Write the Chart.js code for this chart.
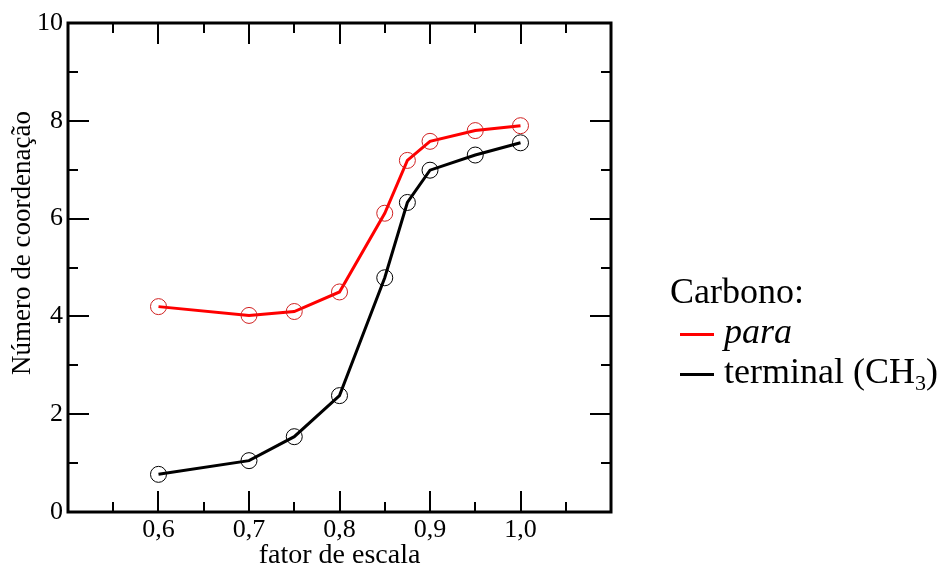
<!DOCTYPE html>
<html>
<head>
<meta charset="utf-8">
<script src="https://cdn.jsdelivr.net/npm/chart.js@4"></script>
<style>
  html, body { margin: 0; padding: 0; background: #fff; }
  #wrap { position: relative; width: 949px; height: 567px; }
  #legend { position: absolute; left: 670px; top: 271px; font-family: "Liberation Serif", "Times New Roman", serif; font-size: 36px; color: #000; line-height: 40px; }
  #legend .row { white-space: nowrap; }
  #legend .sw { display: inline-block; width: 34px; height: 3px; vertical-align: middle; margin-left: 10px; margin-right: 10px; }
  #legend sub { font-size: 22px; vertical-align: -7px; line-height: 0; }
</style>
</head>
<body>
<div id="wrap">
  <canvas id="c" width="949" height="567"></canvas>
  <div id="legend">
    <div class="row">Carbono:</div>
    <div class="row"><span class="sw" style="background:#ff0000"></span><i>para</i></div>
    <div class="row"><span class="sw" style="background:#000"></span>terminal (CH<sub>3</sub>)</div>
  </div>
</div>
<script>
const xValues = [0.6, 0.7, 0.75, 0.8, 0.85, 0.875, 0.9, 0.95, 1.0];
const paraValues = [4.2, 4.02, 4.1, 4.5, 6.11, 7.19, 7.58, 7.8, 7.9];
const terminalValues = [0.77, 1.05, 1.54, 2.38, 4.79, 6.33, 6.99, 7.3, 7.55];
const xTickLabels = [0.6, 0.7, 0.8, 0.9, 1.0];
const yTickLabels = [0, 2, 4, 6, 8, 10];
const xTitle = "fator de escala";
const yTitle = "Número de coordenação";

const FONT = '"Liberation Serif", "Times New Roman", serif';

const framePlugin = {
  id: 'frame',
  afterDatasetsDraw(chart) {
    const ctx = chart.ctx;
    const a = chart.chartArea;
    const xs = chart.scales.x, ys = chart.scales.y;
    ctx.save();
    ctx.strokeStyle = '#000';
    ctx.lineWidth = 2;
    ctx.beginPath();
    for (let i = 0; i <= 12; i++) {
      const v = 0.5 + i * 0.05;
      const px = Math.round(xs.getPixelForValue(v));
      const len = (i % 2 === 0) ? 21 : 10;
      ctx.moveTo(px, a.bottom); ctx.lineTo(px, a.bottom - len);
      ctx.moveTo(px, a.top); ctx.lineTo(px, a.top + len);
    }
    for (let v = 0; v <= 10; v++) {
      const py = Math.round(ys.getPixelForValue(v));
      const len = (v % 2 === 0) ? 21 : 10;
      ctx.moveTo(a.left, py); ctx.lineTo(a.left + len, py);
      ctx.moveTo(a.right, py); ctx.lineTo(a.right - len, py);
    }
    ctx.stroke();
    ctx.lineWidth = 3;
    ctx.strokeRect(a.left, a.top, a.right - a.left, a.bottom - a.top);
    ctx.fillStyle = '#000';
    ctx.font = '27px ' + FONT;
    ctx.textAlign = 'center';
    ctx.textBaseline = 'middle';
    ctx.translate(23, 243);
    ctx.rotate(-Math.PI / 2);
    ctx.fillText(yTitle, 0, 0);
    ctx.restore();
  }
};

new Chart(document.getElementById('c'), {
  type: 'line',
  data: {
    datasets: [
      {
        label: 'para',
        data: xValues.map((x, i) => ({ x: x, y: paraValues[i] })),
        borderColor: '#ff0000',
        borderWidth: 3,
        pointStyle: 'circle',
        pointRadius: 8,
        pointBorderWidth: 1,
        pointBorderColor: '#d02020',
        pointBackgroundColor: 'rgba(0,0,0,0)',
        tension: 0,
        fill: false
      },
      {
        label: 'terminal (CH3)',
        data: xValues.map((x, i) => ({ x: x, y: terminalValues[i] })),
        borderColor: '#000000',
        borderWidth: 3,
        pointStyle: 'circle',
        pointRadius: 8,
        pointBorderWidth: 1,
        pointBorderColor: '#000000',
        pointBackgroundColor: 'rgba(0,0,0,0)',
        tension: 0,
        fill: false
      }
    ]
  },
  options: {
    responsive: false,
    animation: false,
    layout: { padding: { left: 0, right: 338, top: 23, bottom: 0 } },
    plugins: { legend: { display: false }, tooltip: { enabled: false } },
    scales: {
      x: {
        type: 'linear',
        min: 0.5, max: 1.1,
        grid: { display: false, drawTicks: false },
        border: { display: false },
        afterBuildTicks: s => { s.ticks = xTickLabels.map(v => ({ value: v })); },
        afterFit: s => { s.height = 55; },
        ticks: {
          padding: 3,
          color: '#000',
          font: { family: FONT, size: 26 },
          callback: v => v.toFixed(1).replace('.', ',')
        },
        title: {
          display: true, text: xTitle, color: '#000',
          font: { family: FONT, size: 28, lineHeight: 0.8 }, padding: 0
        }
      },
      y: {
        min: 0, max: 10,
        grid: { display: false, drawTicks: false },
        border: { display: false },
        afterBuildTicks: s => { s.ticks = yTickLabels.map(v => ({ value: v })); },
        afterFit: s => { s.width = 68; },
        ticks: {
          padding: 5,
          color: '#000',
          font: { family: FONT, size: 26 },
          callback: v => String(v)
        }
      }
    }
  },
  plugins: [framePlugin]
});
</script>
</body>
</html>
